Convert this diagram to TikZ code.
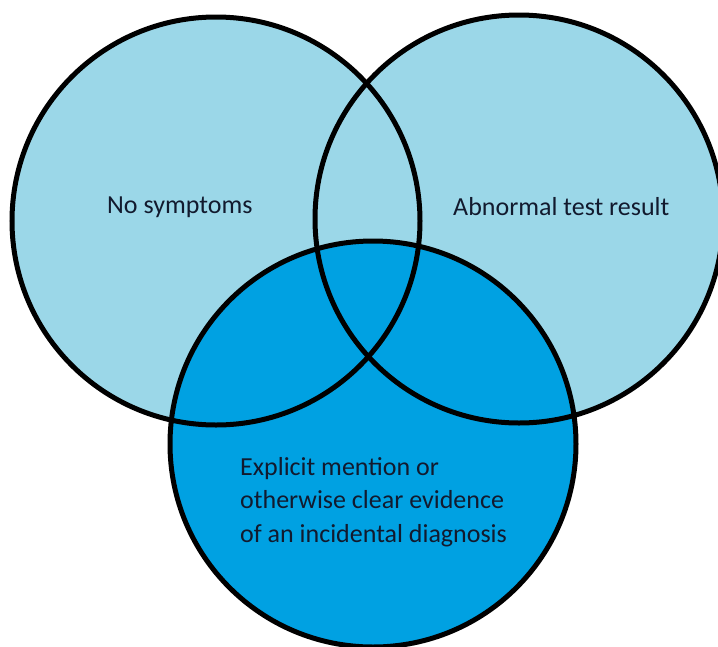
\documentclass[tikz,border=0pt]{standalone}
\usepackage{fontspec}
\setmainfont{Carlito}
\definecolor{lightblue}{RGB}{155,215,232}
\definecolor{darkblue}{RGB}{0,161,226}
\definecolor{inkblue}{RGB}{18,26,46}
\begin{document}
\begin{tikzpicture}[x=1pt,y=-1pt,
    venn/.style={line width=5pt},
    lbl/.style={font=\fontsize{26}{33.5}\selectfont,text=inkblue,anchor=base west,inner sep=0pt,align=left}]
  \useasboundingbox (0,0) rectangle (718,646);
  \coordinate (symp) at (216,221);
  \coordinate (test) at (519,219);
  \coordinate (diag) at (373,444);
  % fills first, outlines on top
  \fill[lightblue] (symp) circle [radius=204];
  \fill[lightblue] (test) circle [radius=204];
  \fill[darkblue] (diag) circle [radius=203];
  \draw[venn] (symp) circle [radius=204];
  \draw[venn] (test) circle [radius=204];
  \draw[venn] (diag) circle [radius=203];
  \node[lbl] (symptext) at (107,213) {No symptoms};
  \node[lbl] (testtext) at (453,215) {Abnormal test result};
  \node[lbl] (diagtext) at (240,542) {Explicit mention or\\otherwise clear evidence\\of an incidental diagnosis};
\end{tikzpicture}
\end{document}
